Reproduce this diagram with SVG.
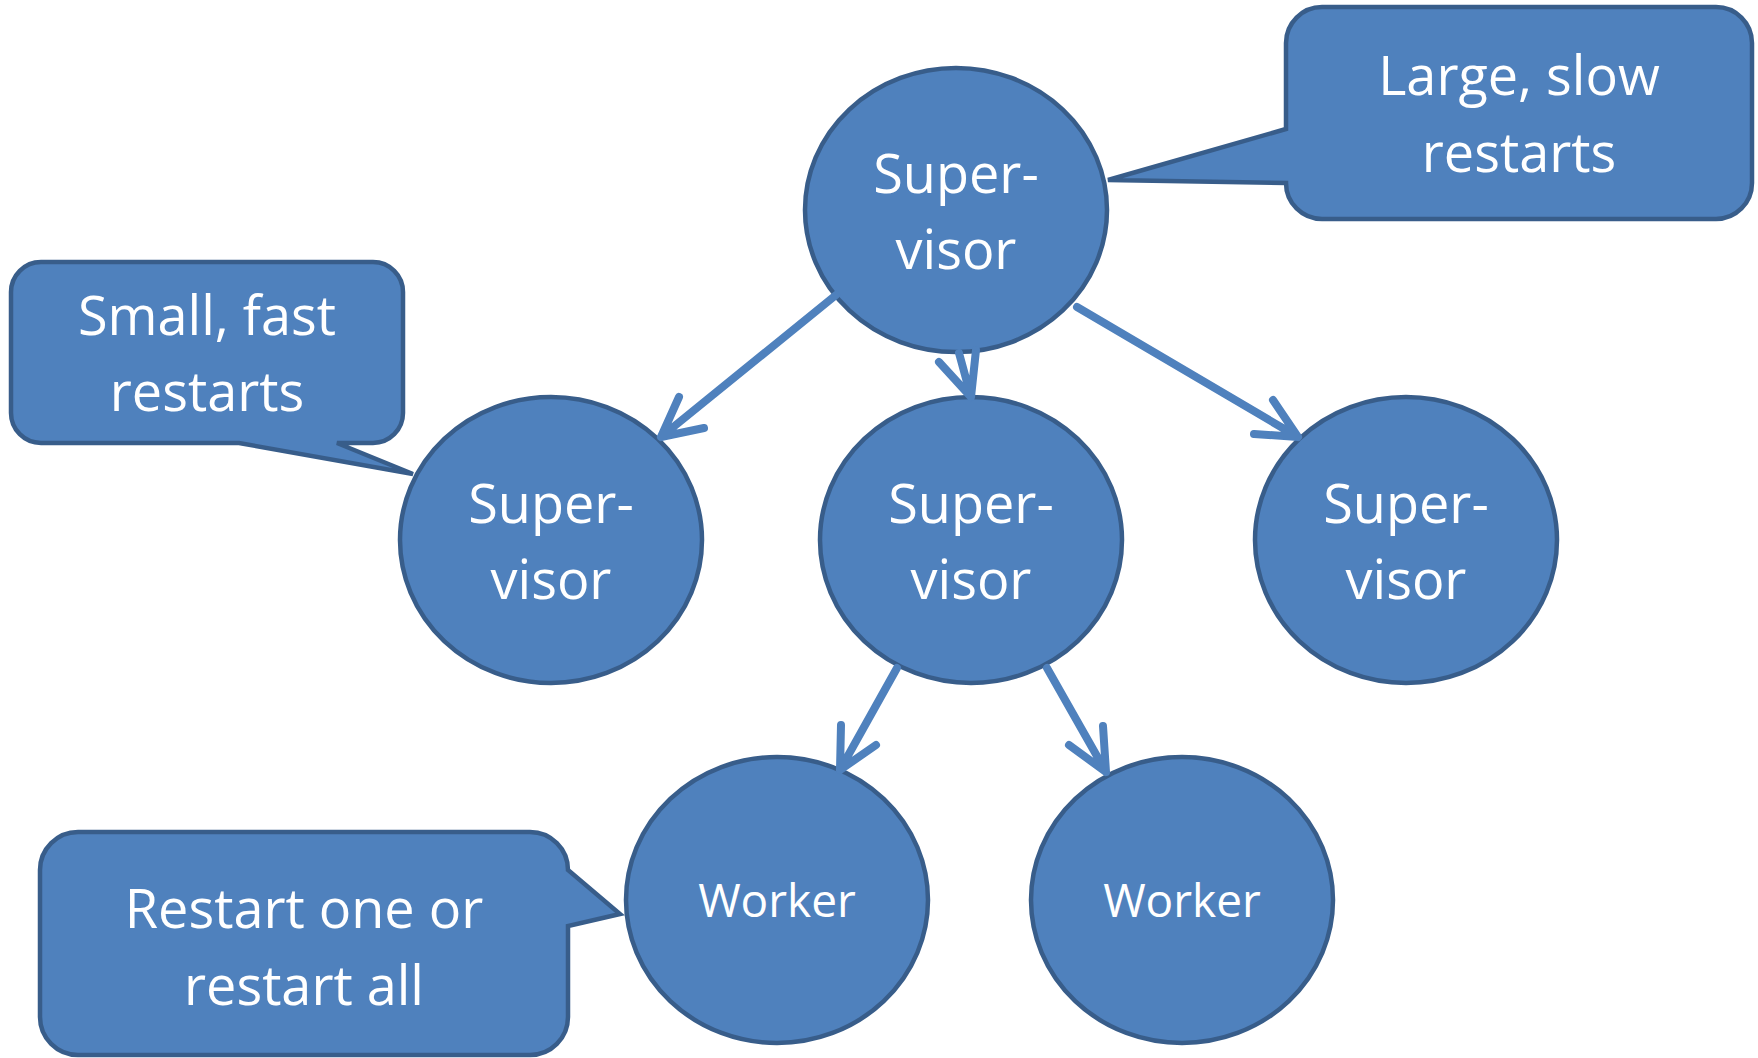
<svg xmlns="http://www.w3.org/2000/svg" width="1758" height="1058" viewBox="0 0 1758 1058">
<style>
.node{fill:#4F81BD;stroke:#385D8A;stroke-width:4.5}
.txt{fill:#FFFFFF;font-family:"Open Sans","Noto Sans",sans-serif;font-size:54px;text-anchor:middle}
.wtxt{fill:#FFFFFF;font-family:"Open Sans","Noto Sans",sans-serif;font-size:46px;text-anchor:middle}
.conn{fill:none;stroke:#4F81BD;stroke-width:8;stroke-linecap:round;stroke-linejoin:round}
</style>
<rect width="1758" height="1058" fill="#FFFFFF"/>
<g id="sup-top">
<ellipse class="node" cx="956" cy="210" rx="151" ry="142"/>
<text class="txt" x="956" y="193">Super-</text>
<text class="txt" x="956" y="269">visor</text>
</g>
<g id="sup-left">
<ellipse class="node" cx="551" cy="540" rx="151" ry="143"/>
<text class="txt" x="551" y="523">Super-</text>
<text class="txt" x="551" y="599">visor</text>
</g>
<g id="sup-mid">
<ellipse class="node" cx="971" cy="540" rx="151" ry="143"/>
<text class="txt" x="971" y="523">Super-</text>
<text class="txt" x="971" y="599">visor</text>
</g>
<g id="sup-right">
<ellipse class="node" cx="1406" cy="540" rx="151" ry="143"/>
<text class="txt" x="1406" y="523">Super-</text>
<text class="txt" x="1406" y="599">visor</text>
</g>
<g id="worker-1">
<ellipse class="node" cx="777" cy="900" rx="151" ry="143"/>
<text class="wtxt" x="777" y="917">Worker</text>
</g>
<g id="worker-2">
<ellipse class="node" cx="1182" cy="900" rx="151" ry="143"/>
<text class="wtxt" x="1182" y="917">Worker</text>
</g>
<g id="connectors">
<path class="conn" d="M836,295 L661,437 M679,397 L661,437 L704,428"/>
<path class="conn" d="M976,350 L971,397 M939,362 L971,397 L959,353"/>
<path class="conn" d="M1077,307 L1298,437 M1273,400 L1298,437 L1254,434"/>
<path class="conn" d="M897,668 L840,770 M841,725 L840,770 L876,745"/>
<path class="conn" d="M1047,668 L1106,772 M1103,726 L1106,772 L1069,745"/>
</g>
<g id="callout-large">
<path class="node" d="M1322,7 H1716 A36,36 0 0 1 1752,43 V183 A36,36 0 0 1 1716,219 H1322 A36,36 0 0 1 1286,183 L1108,180 L1286,129 V43 A36,36 0 0 1 1322,7 Z"/>
<text class="txt" x="1519" y="95">Large, slow</text>
<text class="txt" x="1519" y="172">restarts</text>
</g>
<g id="callout-small">
<path class="node" d="M41,262 H373 A30,30 0 0 1 403,292 V413 A30,30 0 0 1 373,443 H337 L413,474 L239,443 H41 A30,30 0 0 1 11,413 V292 A30,30 0 0 1 41,262 Z"/>
<text class="txt" x="207" y="335">Small, fast</text>
<text class="txt" x="207" y="411">restarts</text>
</g>
<g id="callout-restart">
<path class="node" d="M78,832 H530 A38,38 0 0 1 568,870 L620,914 L568,926 V1017 A38,38 0 0 1 530,1055 H78 A38,38 0 0 1 40,1017 V870 A38,38 0 0 1 78,832 Z"/>
<text class="txt" x="304" y="928">Restart one or</text>
<text class="txt" x="304" y="1005">restart all</text>
</g>
</svg>
